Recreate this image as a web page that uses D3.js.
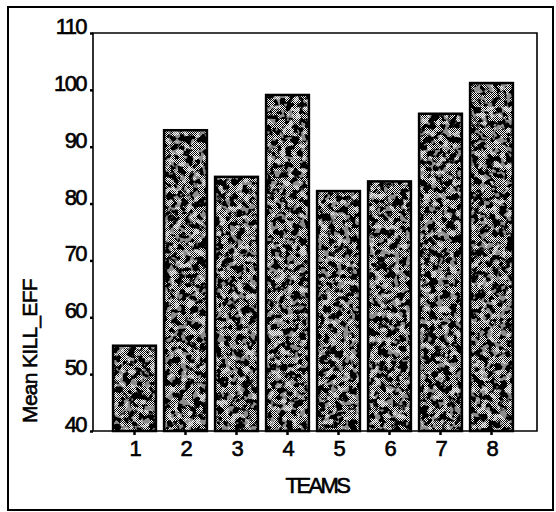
<!DOCTYPE html>
<html>
<head>
<meta charset="utf-8">
<script src="https://cdn.jsdelivr.net/npm/d3@7"></script>
<style>
html,body{margin:0;padding:0;background:#fff;}
svg{display:block;}
text{font-family:"Liberation Sans",Arial,sans-serif;fill:#000;stroke:#000;stroke-width:0.6px;}
</style>
</head>
<body>
<svg id="chart" width="556" height="512"></svg>
<script>
const teams = ["1","2","3","4","5","6","7","8"];
const meanKillEff = [55, 92.9, 84.7, 99.1, 82.2, 83.9, 95.8, 101.2];
const yTicks = [40, 50, 60, 70, 80, 90, 100, 110];
const xTitle = "TEAMS";
const yTitle = "Mean KILL_EFF";

const svg = d3.select("#chart");
const defs = svg.append("defs");

// fine checker dither
const pat = defs.append("pattern").attr("id","checker").attr("patternUnits","userSpaceOnUse")
  .attr("width",2).attr("height",2);
pat.append("rect").attr("width",2).attr("height",2).attr("fill","#fff");
pat.append("rect").attr("width",1).attr("height",1).attr("fill","#000");
pat.append("rect").attr("x",1).attr("y",1).attr("width",1).attr("height",1).attr("fill","#000");

function mottle(id, seed, freq, row){
  const f = defs.append("filter").attr("id",id).attr("x",0).attr("y",0).attr("width",1).attr("height",1)
    .attr("filterUnits","objectBoundingBox").attr("primitiveUnits","userSpaceOnUse");
  f.append("feTurbulence").attr("type","fractalNoise").attr("baseFrequency",freq)
    .attr("numOctaves",2).attr("seed",seed).attr("result","n");
  f.append("feColorMatrix").attr("in","n").attr("type","matrix")
    .attr("values","0 0 0 0 0  0 0 0 0 0  0 0 0 0 0  " + row).attr("result","a");
  f.append("feComposite").attr("in","SourceGraphic").attr("in2","a").attr("operator","in");
}
mottle("darkBlobs", 7, 0.14, "-14 0 0 0 7.5");
mottle("lightBlobs", 11, 0.16, "0 14 0 0 -7.4");

// outer frame
svg.append("rect").attr("x",8).attr("y",7).attr("width",545).attr("height",503)
  .attr("fill","none").attr("stroke","#000").attr("stroke-width",2);

const plot = {left:93, top:33, right:537, bottom:431};

const y = d3.scaleLinear().domain([40,110]).range([plot.bottom, plot.top]);
const x = d3.scaleBand().domain(teams).range([109, 517]).paddingInner(0.16).paddingOuter(0.08);

// bars
const bars = svg.append("g");
teams.forEach((t,i)=>{
  const bx = x(t), bw = x.bandwidth(), by = y(meanKillEff[i]), bh = plot.bottom - by;
  bars.append("rect").attr("x",bx).attr("y",by).attr("width",bw).attr("height",bh).attr("fill","url(#checker)");
  bars.append("rect").attr("x",bx).attr("y",by).attr("width",bw).attr("height",bh).attr("fill","#000").attr("filter","url(#darkBlobs)");
  bars.append("rect").attr("x",bx).attr("y",by).attr("width",bw).attr("height",bh).attr("fill","#fff").attr("opacity",0.55).attr("filter","url(#lightBlobs)");
  bars.append("rect").attr("x",bx).attr("y",by).attr("width",bw).attr("height",bh).attr("fill","none").attr("stroke","#000").attr("stroke-width",2.5);
});

// plot box
svg.append("path")
  .attr("d",`M${plot.left},${plot.bottom}H${plot.right}V${plot.top}H${plot.left}Z`)
  .attr("fill","none").attr("stroke","#000").attr("stroke-width",1.6);

// y axis
const yAxis = svg.append("g").attr("transform",`translate(${plot.left},0)`)
  .call(d3.axisLeft(y).tickValues(yTicks).tickSize(3).tickPadding(4).tickFormat(d3.format("d")));
yAxis.select(".domain").remove();
yAxis.selectAll(".tick line").attr("stroke","#000").attr("stroke-width",2.5);
yAxis.selectAll(".tick text").attr("font-size",22).attr("letter-spacing","-1.6px")
  .attr("font-family","'Liberation Sans',Arial,sans-serif").attr("dy","0.02em");

// x axis
const xAxis = svg.append("g").attr("transform",`translate(0,${plot.bottom})`)
  .call(d3.axisBottom(x).tickSize(4).tickPadding(5));
xAxis.select(".domain").remove();
xAxis.selectAll(".tick line").attr("stroke","#000").attr("stroke-width",2.5);
xAxis.selectAll(".tick text").attr("font-size",22).attr("dx","1")
  .attr("font-family","'Liberation Sans',Arial,sans-serif");

// titles
svg.append("text").attr("x",317).attr("y",493).attr("text-anchor","middle")
  .attr("font-size",22).attr("letter-spacing","-2.6px").text(xTitle);
svg.append("text").attr("transform","translate(37,351) rotate(-90)").attr("text-anchor","middle")
  .attr("font-size",21).attr("letter-spacing","-0.7px").text(yTitle);
</script>
</body>
</html>
